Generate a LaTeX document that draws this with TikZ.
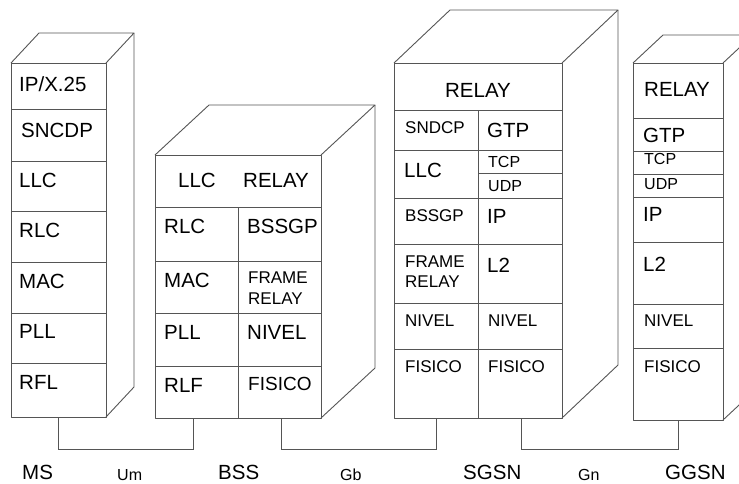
\documentclass[tikz,border=0pt]{standalone}
\usepackage{fontspec}
\setmainfont{Liberation Sans}
\newcommand\fbig{\fontsize{20.5}{24}\selectfont}
\newcommand\fmid{\fontsize{17}{20}\selectfont}
\newcommand\fsml{\fontsize{16}{19}\selectfont}
\definecolor{edge}{RGB}{85,85,85}
% cuboid: front rectangle (x0,y0)-(x1,y1), depth offset (dx,dy)
\newcommand\drawcuboid[6]{%
  \draw[box] (#1,#2) rectangle (#3,#4);
  \draw[box] (#1,#2) -- ({#1+#5},{#2-#6}) -- ({#3+#5},{#2-#6}) -- (#3,#2);
  \draw[box] ({#3+#5},{#2-#6}) -- ({#3+#5},{#4-#6}) -- (#3,#4);
}
\tikzset{
  box/.style={draw=edge, line width=0.9pt, line join=round},
  lb/.style={anchor=base west, inner sep=0pt, font=\fbig},
  lm/.style={anchor=base west, inner sep=0pt, font=\fmid},
  ls/.style={anchor=base west, inner sep=0pt, font=\fsml},
  wire/.style={draw=edge, line width=0.9pt},
}
\begin{document}
\begin{tikzpicture}[x=1pt,y=-1pt]
\useasboundingbox (0,0) rectangle (739,483);
\clip (0,0) rectangle (739,483);

% ---------------- MS ----------------
\drawcuboid{11}{63}{106}{417}{28}{30}
\foreach \y in {109,161,211,262,313,363} \draw[box] (11,\y) -- (106,\y);
\node[lb] (ms1) at (19,91)  {IP/X.25};
\node[lb] (ms2) at (21,137) {SNCDP};
\node[lb] (ms3) at (19,187) {LLC};
\node[lb] (ms4) at (19,237) {RLC};
\node[lb] (ms5) at (19,288) {MAC};
\node[lb] (ms6) at (19,338) {PLL};
\node[lb] (ms7) at (19,389) {RFL};

% ---------------- BSS ----------------
\drawcuboid{155}{155}{321}{418}{54}{50}
\foreach \y in {207,261,313,366} \draw[box] (155,\y) -- (321,\y);
\draw[box] (238,207) -- (238,418);
\node[lb] (bss1) at (178,187) {LLC};
\node[lb] (bss2) at (243,187) {RELAY};
\node[lb] (bss3) at (164,233) {RLC};
\node[lb] (bss4) at (247,233) {BSSGP};
\node[lb] (bss5) at (164,287) {MAC};
\node[lm] (bss6) at (248,283) {FRAME};
\node[lm] (bss7) at (248,304) {RELAY};
\node[lb] (bss8) at (164,339) {PLL};
\node[lb] (bss9) at (247,339) {NIVEL};
\node[lb] (bss10) at (164,392) {RLF};
\node[anchor=base west, inner sep=0pt, font=\fontsize{19}{22}\selectfont] (bss11) at (248,390) {FISICO};

% ---------------- SGSN ----------------
\drawcuboid{394}{63}{562}{418}{56}{53}
\foreach \y in {110,150,198,244,303,349} \draw[box] (394,\y) -- (562,\y);
\draw[box] (478,173) -- (562,173);
\draw[box] (478,110) -- (478,418);
\node[anchor=base, inner sep=0pt, font=\fbig] (sg1) at (478,97) {RELAY};
\node[lm] (sg2) at (405,133) {SNDCP};
\node[lb] (sg3) at (487,137) {GTP};
\node[lb] (sg4) at (404,177) {LLC};
\node[ls] (sg5) at (488,167) {TCP};
\node[ls] (sg6) at (488,191) {UDP};
\node[lm] (sg7) at (405,221) {BSSGP};
\node[lb] (sg8) at (487,223) {IP};
\node[lm] (sg9) at (405,267) {FRAME};
\node[lm] (sg10) at (405,287) {RELAY};
\node[lb] (sg11) at (487,272) {L2};
\node[lm] (sg12) at (405,326) {NIVEL};
\node[lm] (sg13) at (488,326) {NIVEL};
\node[lm] (sg14) at (405,372) {FISICO};
\node[lm] (sg15) at (488,372) {FISICO};

% ---------------- GGSN ----------------
\drawcuboid{633}{63}{723}{420}{30}{28}
\foreach \y in {118,151,174,197,242,304,348} \draw[box] (633,\y) -- (723,\y);
\node[lb] (gg1) at (644,96)  {RELAY};
\node[lb] (gg2) at (643,142) {GTP};
\node[ls] (gg3) at (644,164) {TCP};
\node[ls] (gg4) at (644,189) {UDP};
\node[lb] (gg5) at (643,221) {IP};
\node[lb] (gg6) at (643,271) {L2};
\node[lm] (gg7) at (644,326) {NIVEL};
\node[lm] (gg8) at (644,372) {FISICO};

% ---------------- interfaces ----------------
\coordinate (msS)   at (58,417);
\coordinate (bssA)  at (193,418);
\coordinate (bssB)  at (281,418);
\coordinate (sgA)   at (436,418);
\coordinate (sgB)   at (521,418);
\coordinate (ggA)   at (678,420);
\draw[wire] (msS)  -- ++(0,32) -| (bssA);
\draw[wire] (bssB) -- ++(0,31) -| (sgA);
\draw[wire] (sgB)  -- ++(0,31) -| (ggA);

\node[lb] (lms)   at (22,479)  {MS};
\node[ls] (lum)   at (117,480) {Um};
\node[lb] (lbss)  at (218,479) {BSS};
\node[ls] (lgb)   at (340,480) {Gb};
\node[lb] (lsgsn) at (463,479) {SGSN};
\node[ls] (lgn)   at (578,480) {Gn};
\node[lb] (lggsn) at (665,479) {GGSN};
\end{tikzpicture}
\end{document}
